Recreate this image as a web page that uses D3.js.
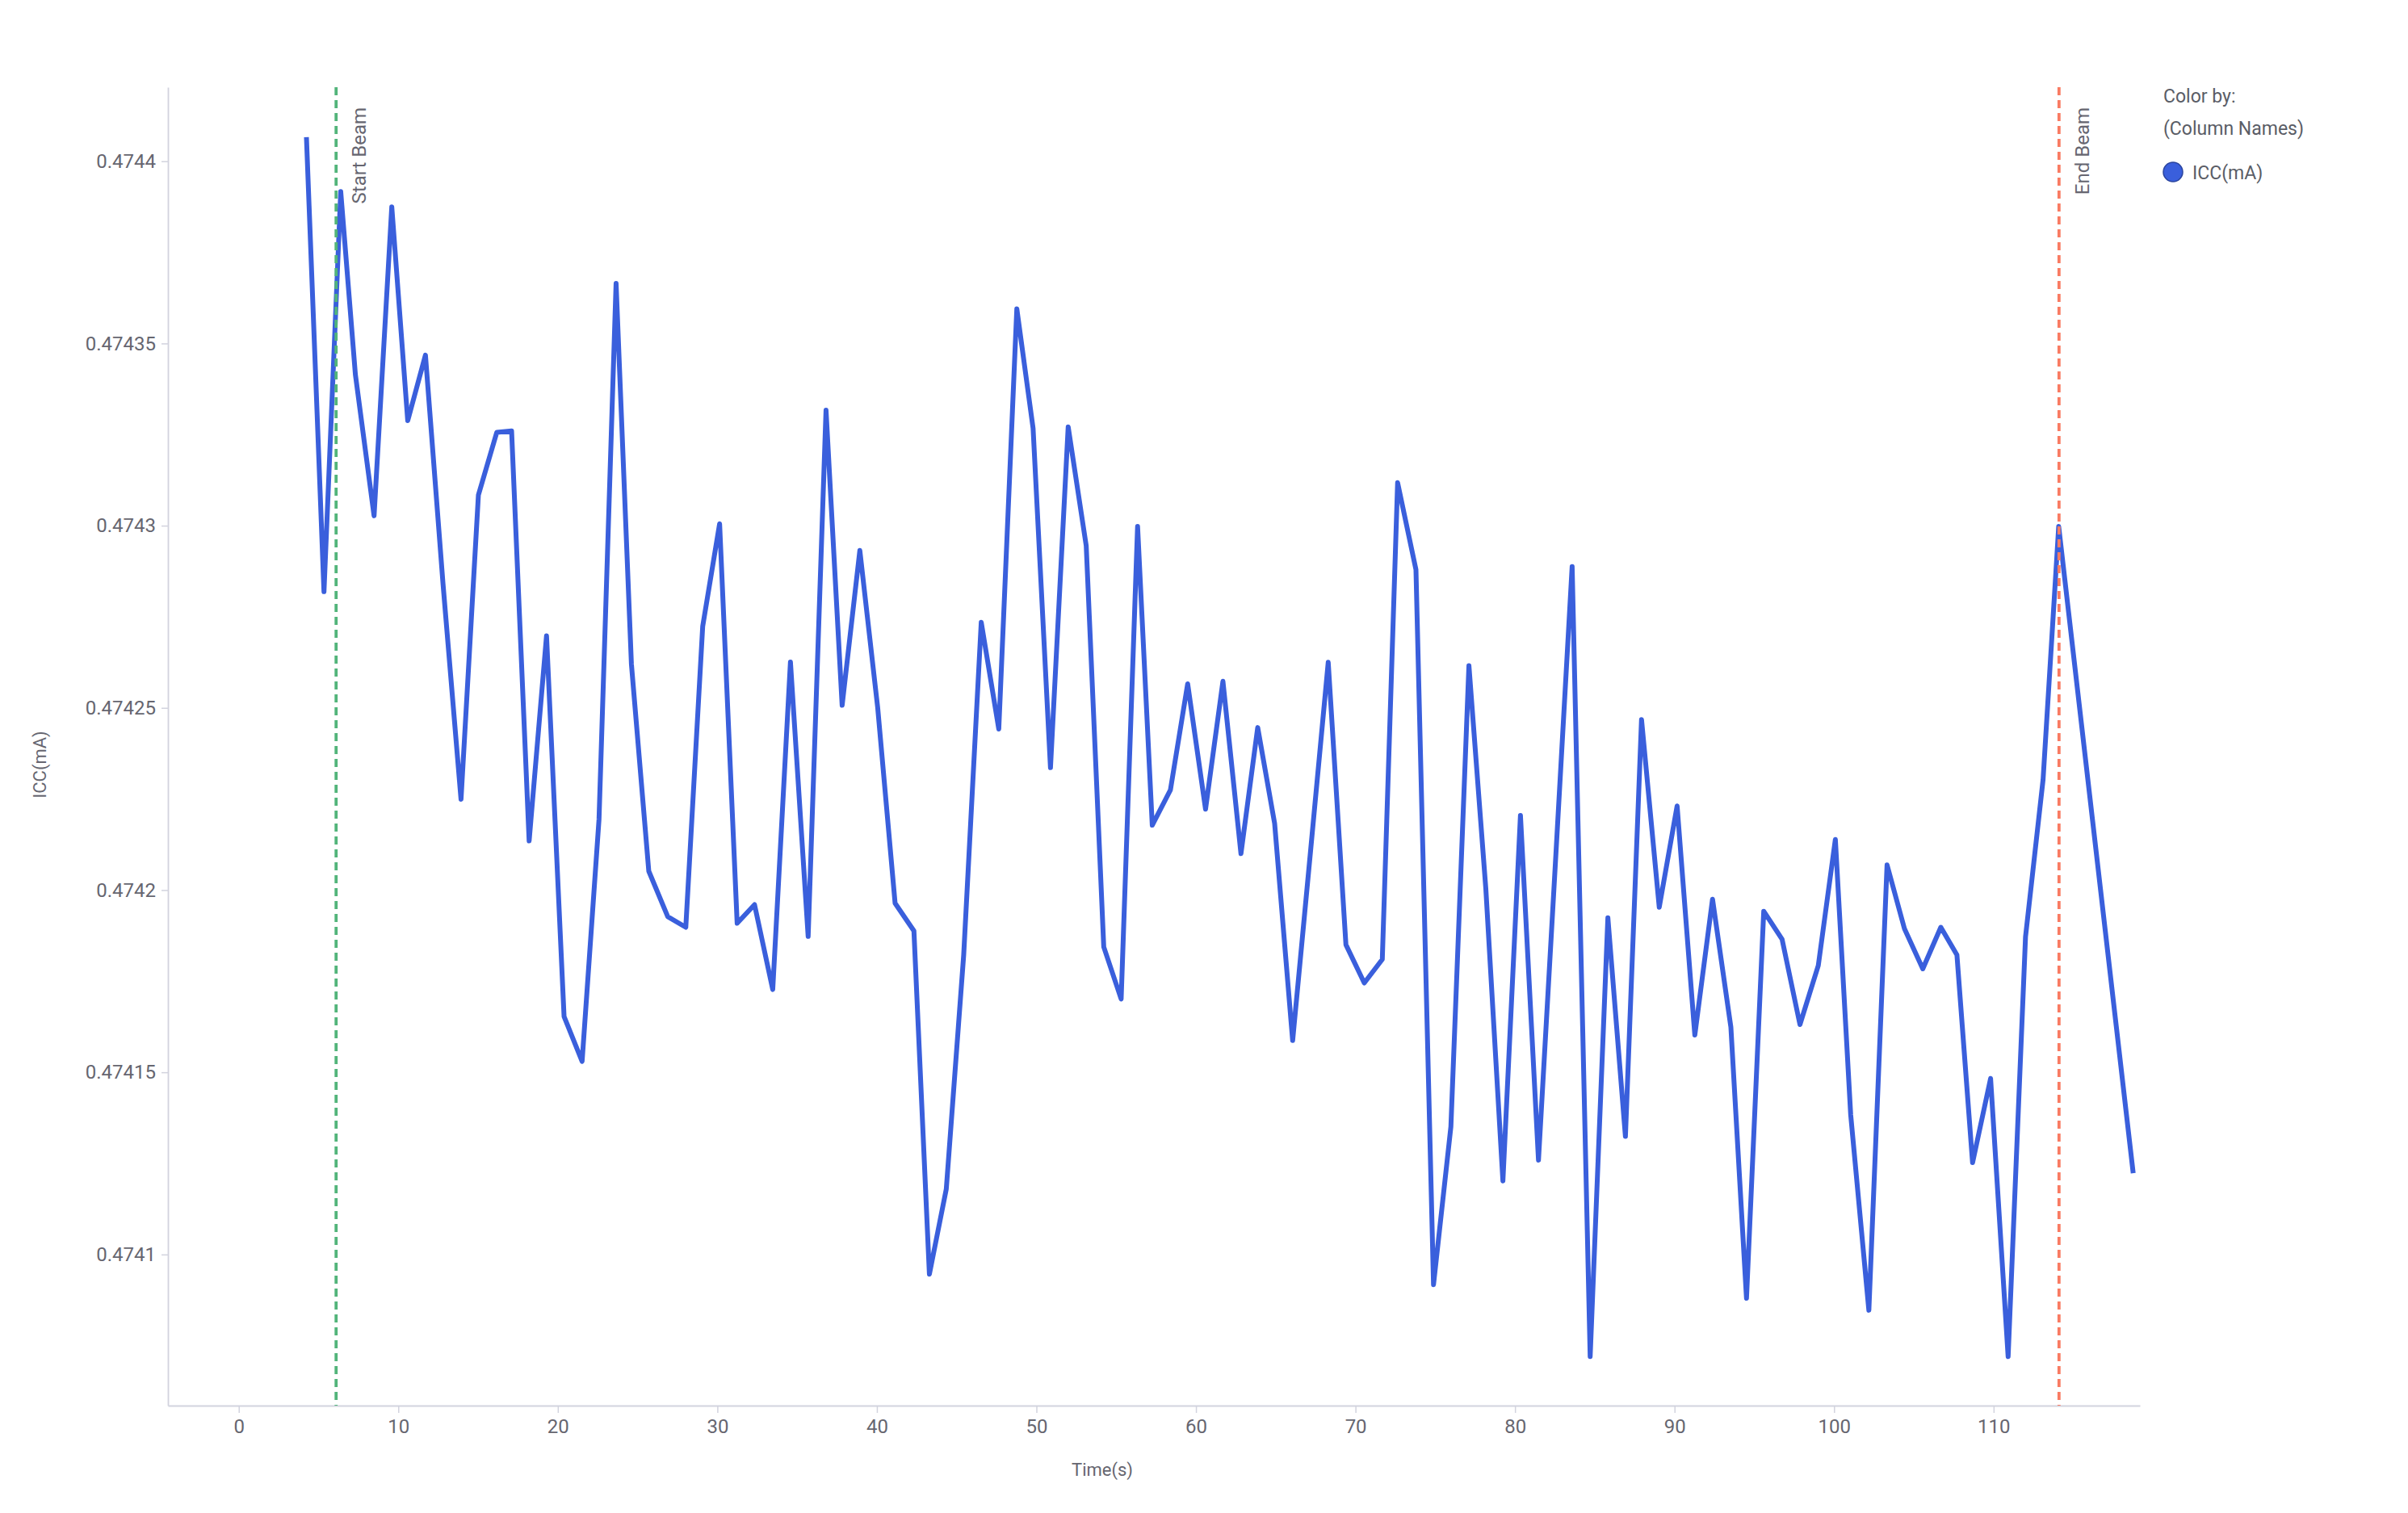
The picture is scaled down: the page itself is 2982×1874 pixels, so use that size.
<!DOCTYPE html>
<html>
<head>
<meta charset="utf-8">
<script src="https://cdn.jsdelivr.net/npm/d3@7"></script>
<style>
  html, body { margin: 0; padding: 0; background: #ffffff; }
  svg { display: block; }
</style>
</head>
<body>
<svg id="chart" width="2982" height="1874"></svg>
<script>
// ---- data ----
const times = [4.24,5.34,6.39,7.31,8.48,9.59,10.59,11.70,12.80,13.93,
  15.02,16.17,17.10,18.20,19.29,20.39,21.52,22.58,23.65,24.61,
  25.70,26.89,28.02,29.08,30.14,31.24,32.33,33.47,34.58,35.69,
  36.81,37.82,38.93,40.05,41.14,42.32,43.29,44.35,45.44,46.54,
  47.64,48.77,49.79,50.88,51.99,53.12,54.22,55.31,56.34,57.26,
  58.40,59.48,60.60,61.69,62.82,63.87,64.93,66.06,67.18,68.29,
  69.40,70.55,71.68,72.64,73.79,74.89,75.98,77.11,78.17,79.24,
  80.34,81.47,82.53,83.58,84.71,85.82,86.92,87.93,89.04,90.16,
  91.27,92.38,93.53,94.51,95.59,96.74,97.86,99.01,100.08,101.04,
  102.18,103.32,104.41,105.56,106.69,107.70,108.68,109.81,110.91,112.00,
  113.10,114.08,118.75];

const icc = [0.4744066,0.4742819,0.4743917,0.4743414,0.4743027,0.4743875,0.4743288,0.4743468,0.4742841,0.4742249,
  0.4743084,0.4743256,0.4743260,0.4742135,0.4742698,0.4741653,0.4741530,0.4742194,0.4743665,0.4742621,
  0.4742052,0.4741927,0.4741898,0.4742724,0.4743005,0.4741909,0.4741960,0.4741727,0.4742626,0.4741873,
  0.4743317,0.4742507,0.4742932,0.4742500,0.4741964,0.4741888,0.4740946,0.4741180,0.4741822,0.4742735,
  0.4742442,0.4743595,0.4743267,0.4742336,0.4743271,0.4742945,0.4741844,0.4741701,0.4742998,0.4742178,
  0.4742275,0.4742566,0.4742222,0.4742573,0.4742100,0.4742446,0.4742183,0.4741587,0.4742106,0.4742625,
  0.4741850,0.4741745,0.4741810,0.4743118,0.4742879,0.4740917,0.4741351,0.4742616,0.4742003,0.4741202,
  0.4742205,0.4741259,0.4742074,0.4742888,0.4740720,0.4741924,0.4741324,0.4742468,0.4741953,0.4742231,
  0.4741602,0.4741975,0.4741624,0.4740880,0.4741942,0.4741865,0.4741631,0.4741793,0.4742139,0.4741384,
  0.4740847,0.4742069,0.4741894,0.4741784,0.4741898,0.4741822,0.4741252,0.4741483,0.4740720,0.4741872,
  0.4742303,0.4742998,0.4741223];

const xTicks = [0,10,20,30,40,50,60,70,80,90,100,110];
const yTicks = [0.4741,0.47415,0.4742,0.47425,0.4743,0.47435,0.4744];
const beamTimes = [6.1, 114.1];
const beamLabels = ["Start Beam", "End Beam"];
const beamColors = ["#52b47a", "#f97b62"];
const seriesName = "ICC(mA)";
const legendTitle = ["Color by:", "(Column Names)"];

// ---- drawing ----
const FONT = "Roboto, 'Noto Sans', sans-serif";
const svg = d3.select("#chart");
svg.append("rect").attr("width", 2982).attr("height", 1874).attr("fill", "#ffffff");

const x = d3.scaleLinear().domain([-4.44, 119.17]).range([208, 2650]);
const y = d3.scaleLinear().domain([0.47405853, 0.47442032]).range([1741, 108]);

const axisColor = "#d2d3de";
const textColor = "#666670";

// y axis
const gy = svg.append("g").attr("transform", "translate(208,0)")
  .call(d3.axisLeft(y).tickValues(yTicks).tickSize(8).tickSizeOuter(0).tickPadding(7)
    .tickFormat(d3.format(".5~f")));
gy.select(".domain").attr("stroke", axisColor).attr("stroke-width", 1.8);
gy.selectAll(".tick line").attr("stroke", axisColor).attr("stroke-width", 1.5);
gy.selectAll(".tick text").attr("fill", textColor).attr("font-family", FONT).attr("font-size", 24);

// x axis
const gx = svg.append("g").attr("transform", "translate(0,1741)")
  .call(d3.axisBottom(x).tickValues(xTicks).tickSize(9).tickSizeOuter(0).tickPadding(8)
    .tickFormat(d3.format("d")));
gx.select(".domain").attr("stroke", axisColor).attr("stroke-width", 1.8);
gx.selectAll(".tick line").attr("stroke", axisColor).attr("stroke-width", 1.5);
gx.selectAll(".tick text").attr("fill", textColor).attr("font-family", FONT).attr("font-size", 24);

// axis titles
svg.append("text").attr("x", 1365).attr("y", 1828).attr("text-anchor", "middle")
  .attr("font-family", FONT).attr("font-size", 22).attr("fill", textColor).text("Time(s)");
svg.append("text").attr("transform", "translate(57,947) rotate(-90)").attr("text-anchor", "middle")
  .attr("font-family", FONT).attr("font-size", 22).attr("fill", textColor).text(seriesName);

// data line
const data = times.map((t, i) => ({t: t, v: icc[i]}));
const line = d3.line().x(d => x(d.t)).y(d => y(d.v));
svg.append("path").datum(data).attr("d", line)
  .attr("fill", "none").attr("stroke", "#3a5fdc").attr("stroke-width", 6)
  .attr("stroke-linejoin", "round");

// beam markers
beamTimes.forEach((bt, i) => {
  const bx = x(bt);
  svg.append("line").attr("x1", bx).attr("x2", bx).attr("y1", 108).attr("y2", 1741)
    .attr("stroke", beamColors[i]).attr("stroke-width", 3.8).attr("stroke-dasharray", "10,6");
  svg.append("text").attr("transform", `translate(${bx + 37},133) rotate(-90)`)
    .attr("text-anchor", "end").attr("font-family", FONT).attr("font-size", 24)
    .attr("fill", textColor).text(beamLabels[i]);
});

// legend
const legColor = "#5a5d66";
svg.append("text").attr("x", 2679).attr("y", 127).attr("font-family", FONT).attr("font-size", 23)
  .attr("fill", legColor).text(legendTitle[0]);
svg.append("text").attr("x", 2679).attr("y", 167).attr("font-family", FONT).attr("font-size", 23)
  .attr("fill", legColor).text(legendTitle[1]);
svg.append("circle").attr("cx", 2691).attr("cy", 213).attr("r", 12)
  .attr("fill", "#3a5fdc").attr("stroke", "#2a449e").attr("stroke-width", 1.5);
svg.append("text").attr("x", 2715).attr("y", 222).attr("font-family", FONT).attr("font-size", 23)
  .attr("fill", legColor).text(seriesName);
</script>
</body>
</html>
